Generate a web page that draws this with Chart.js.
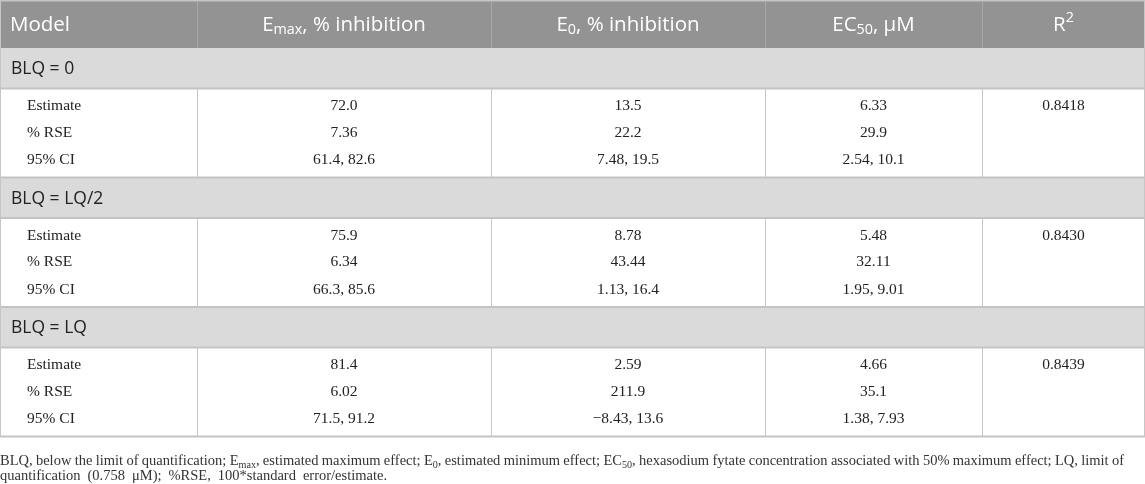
<!DOCTYPE html>
<html>
<head>
<meta charset="utf-8">
<script src="https://cdn.jsdelivr.net/npm/chart.js@4.4.0/dist/chart.umd.min.js"></script>
<style>
  html, body { margin: 0; padding: 0; background: #fff; }
  #wrap { width: 1145px; height: 484px; position: relative; }
</style>
</head>
<body>
<div id="wrap"><canvas id="tabel"></canvas></div>
<script>
// header text, _{..} = subscript, ^{..} = superscript
const headers = ['Model', 'E_{max}, % inhibition', 'E_{0}, % inhibition', 'EC_{50}, μM', 'R^{2}'];
const groups = ['BLQ = 0', 'BLQ = LQ/2', 'BLQ = LQ'];
const rowLabels = ['Estimate', '% RSE', '95% CI'];
const emax = [['72.0', '7.36', '61.4, 82.6'], ['75.9', '6.34', '66.3, 85.6'], ['81.4', '6.02', '71.5, 91.2']];
const e0 = [['13.5', '22.2', '7.48, 19.5'], ['8.78', '43.44', '1.13, 16.4'], ['2.59', '211.9', '−8.43, 13.6']];
const ec50 = [['6.33', '29.9', '2.54, 10.1'], ['5.48', '32.11', '1.95, 9.01'], ['4.66', '35.1', '1.38, 7.93']];
const r2 = ['0.8418', '0.8430', '0.8439'];
const footnote = [
  'BLQ, below the limit of quantification; E_{max}, estimated maximum effect; E_{0}, estimated minimum effect; EC_{50}, hexasodium fytate concentration associated with 50% maximum effect; LQ, limit of',
  'quantification (0.758 μM); %RSE, 100*standard error/estimate.'
];

// layout (px in a 1145 x 484 frame)
const colEdges = [0, 197, 491, 765, 982, 1145];
const headH = 48, groupH = 40.5, blockH = 89;
const subOffsets = [17.5, 44, 71.5];
const serif = '"Liberation Serif", "Times New Roman", serif';
const sans = '"Open Sans", "Noto Sans", sans-serif';

function groupTop(i) { return headH + i * (groupH + blockH); }
function blockTop(i) { return groupTop(i) + groupH; }
function colMid(i) { return (colEdges[i] + colEdges[i + 1]) / 2; }
const tableBottom = groupTop(groups.length);

// cell points, positioned by the chart's scales
const cells = [];
groups.forEach(function (g, gi) {
  rowLabels.forEach(function (lab, ri) {
    const y = blockTop(gi) + subOffsets[ri];
    cells.push({ x: colEdges[0] + 27, y: y, t: lab, left: true });
    cells.push({ x: colMid(1), y: y, t: emax[gi][ri] });
    cells.push({ x: colMid(2), y: y, t: e0[gi][ri] });
    cells.push({ x: colMid(3), y: y, t: ec50[gi][ri] });
  });
  cells.push({ x: colMid(4), y: blockTop(gi) + subOffsets[0], t: r2[gi] });
});

// split "E_{max}, foo" into segments
function parseRich(str) {
  const segs = [];
  const re = /([_^])\{([^}]*)\}/g;
  let last = 0, m;
  while ((m = re.exec(str)) !== null) {
    if (m.index > last) segs.push({ t: str.slice(last, m.index) });
    segs.push({ t: m[2], k: m[1] === '_' ? 'sub' : 'sup' });
    last = re.lastIndex;
  }
  if (last < str.length) segs.push({ t: str.slice(last) });
  return segs;
}

function segFont(seg, size, family) {
  const s = seg.k ? size * 0.7 : size;
  return s + 'px ' + family;
}

function richWidth(ctx, segs, size, family) {
  let w = 0;
  segs.forEach(function (s) { ctx.font = segFont(s, size, family); w += ctx.measureText(s.t).width; });
  return w;
}

function drawRich(ctx, segs, x, y, size, family) {
  segs.forEach(function (s) {
    ctx.font = segFont(s, size, family);
    let dy = 0;
    if (s.k === 'sub') dy = size * 0.22;
    if (s.k === 'sup') dy = -size * 0.34;
    ctx.fillText(s.t, x, y + dy);
    x += ctx.measureText(s.t).width;
  });
}

const tablePlugin = {
  id: 'tablePlugin',
  beforeDatasetsDraw: function (chart) {
    const ctx = chart.ctx;
    const sx = chart.scales.x, sy = chart.scales.y;
    const X = function (v) { return sx.getPixelForValue(v); };
    const Y = function (v) { return sy.getPixelForValue(v); };
    ctx.save();

    // header band
    ctx.fillStyle = '#939393';
    ctx.fillRect(X(0), Y(0), X(1145) - X(0), Y(headH) - Y(0));
    ctx.fillStyle = '#c4c4c4';
    ctx.fillRect(X(0), Y(0), X(1145) - X(0), 1.5);
    ctx.strokeStyle = '#a8a8a8';
    ctx.lineWidth = 1;
    for (let i = 1; i < colEdges.length - 1; i++) {
      ctx.beginPath();
      ctx.moveTo(Math.round(X(colEdges[i])) + 0.5, Y(1.5));
      ctx.lineTo(Math.round(X(colEdges[i])) + 0.5, Y(headH));
      ctx.stroke();
    }

    // group bands
    groups.forEach(function (g, gi) {
      ctx.fillStyle = '#d9dad9';
      ctx.fillRect(X(0), Y(groupTop(gi)), X(1145) - X(0), Y(groupH));
    });

    // row separators
    ctx.fillStyle = '#c3c3c3';
    groups.forEach(function (g, gi) {
      ctx.fillRect(X(0), Y(blockTop(gi)) - 1, X(1145) - X(0), 2);
      ctx.fillRect(X(0), Y(blockTop(gi) + blockH) - 1, X(1145) - X(0), 2);
    });

    // column lines in data blocks
    ctx.strokeStyle = '#c6c6c6';
    ctx.lineWidth = 1;
    groups.forEach(function (g, gi) {
      colEdges.forEach(function (c, ci) {
        let px = Math.round(X(c)) + 0.5;
        if (ci === colEdges.length - 1) px -= 1;
        ctx.beginPath();
        ctx.moveTo(px, Y(blockTop(gi)));
        ctx.lineTo(px, Y(blockTop(gi) + blockH));
        ctx.stroke();
      });
    });
    // outer left/right edge
    ctx.beginPath();
    ctx.moveTo(0.5, 0); ctx.lineTo(0.5, Y(tableBottom));
    ctx.moveTo(X(1145) - 0.5, 0); ctx.lineTo(X(1145) - 0.5, Y(tableBottom));
    ctx.stroke();

    // header texts
    ctx.fillStyle = '#ffffff';
    ctx.textBaseline = 'middle';
    ctx.textAlign = 'left';
    const hs = 20.5;
    headers.forEach(function (h, i) {
      const segs = parseRich(h);
      const w = richWidth(ctx, segs, hs, sans);
      const x0 = i === 0 ? X(colEdges[0] + 10) : X(colMid(i)) - w / 2;
      drawRich(ctx, segs, x0, Y(headH / 2 + 1), hs, sans);
    });

    // group labels
    ctx.fillStyle = '#222222';
    ctx.font = '17.5px ' + sans;
    groups.forEach(function (g, gi) {
      ctx.fillText(g, X(11), Y(groupTop(gi) + groupH / 2 + 1));
    });
    ctx.restore();
  },
  afterDatasetsDraw: function (chart) {
    const ctx = chart.ctx;
    const sx = chart.scales.x, sy = chart.scales.y;
    const meta = chart.getDatasetMeta(0);
    const data = chart.data.datasets[0].data;
    ctx.save();
    ctx.fillStyle = '#222222';
    ctx.font = '15.5px ' + serif;
    ctx.textBaseline = 'middle';
    meta.data.forEach(function (el, i) {
      const d = data[i];
      ctx.textAlign = d.left ? 'left' : 'center';
      ctx.fillText(d.t, el.x, el.y);
    });

    // footnote, first line justified
    ctx.textAlign = 'left';
    ctx.textBaseline = 'alphabetic';
    ctx.fillStyle = '#333333';
    const fs = 14.5;
    const lineW = sx.getPixelForValue(1124) - sx.getPixelForValue(0);
    const words1 = footnote[0].split(' ').map(parseRich);
    let natural = 0;
    words1.forEach(function (w) { natural += richWidth(ctx, w, fs, serif); });
    const gap = (lineW - natural) / (words1.length - 1);
    let x = sx.getPixelForValue(0);
    words1.forEach(function (w) {
      drawRich(ctx, w, x, sy.getPixelForValue(465), fs, serif);
      x += richWidth(ctx, w, fs, serif) + gap;
    });
    const words2 = footnote[1].split(' ').map(parseRich);
    x = sx.getPixelForValue(0);
    words2.forEach(function (w) {
      drawRich(ctx, w, x, sy.getPixelForValue(480), fs, serif);
      x += richWidth(ctx, w, fs, serif) + 7;
    });
    ctx.restore();
  }
};

new Chart(document.getElementById('tabel').getContext('2d'), {
  type: 'scatter',
  data: {
    datasets: [{
      label: 'cells',
      data: cells,
      pointRadius: 0,
      pointHoverRadius: 0,
      clip: false
    }]
  },
  options: {
    responsive: true,
    maintainAspectRatio: false,
    animation: false,
    events: [],
    layout: { padding: 0 },
    scales: {
      x: { type: 'linear', min: 0, max: 1145, display: false },
      y: { type: 'linear', min: 0, max: 484, reverse: true, display: false }
    },
    plugins: {
      legend: { display: false },
      tooltip: { enabled: false }
    }
  },
  plugins: [tablePlugin]
});
</script>
</body>
</html>
